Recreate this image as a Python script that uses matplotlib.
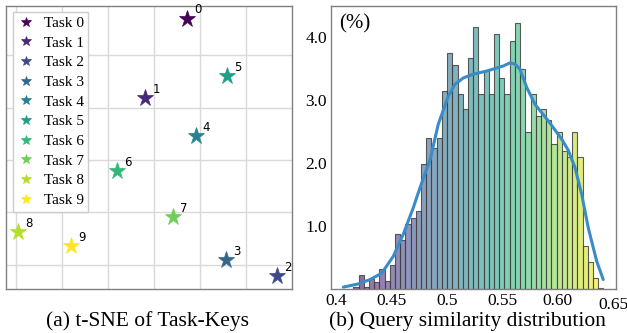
import numpy as np
import matplotlib
matplotlib.use("Agg")
import matplotlib.pyplot as plt
from matplotlib.colors import to_rgba

# ---------------- data ----------------
task_ids = list(range(10))
task_labels = ["Task %d" % i for i in task_ids]
task_x = [7.2, -1.9, 26.8, 15.7, 9.0, 15.8, -8.0, 4.2, -29.5, -18.0]
task_y = [27.0, 11.9, -22.2, -19.1, 4.6, 16.1, -2.2, -10.9, -13.7, -16.4]

hist_lo = 0.4156
hist_hi = 0.6412
hist_pct = [0.03, 0.22, 0.03, 0.16, 0.11, 0.32, 0.12, 0.38, 0.88, 0.78,
            1.03, 1.13, 1.24, 1.99, 2.40, 2.24, 2.40, 3.15, 3.75, 3.56,
            3.09, 2.85, 3.66, 4.16, 3.09, 3.46, 3.09, 4.05, 3.35, 3.09,
            3.93, 4.22, 3.50, 2.49, 3.09, 2.75, 2.85, 2.69, 2.30, 2.49,
            2.19, 2.10, 2.49, 2.10, 0.68, 0.43, 0.18, 0.02]

kde_x = [0.4066, 0.4200, 0.4307, 0.4412, 0.4517, 0.4607, 0.4697, 0.4758,
         0.4848, 0.4923, 0.5013, 0.5073, 0.5148, 0.5238, 0.5359, 0.5509,
         0.5569, 0.5614, 0.5659, 0.5720, 0.5795, 0.5914, 0.6035, 0.6095,
         0.6155, 0.6216, 0.6275, 0.6351, 0.6410]
kde_y = [0.03, 0.08, 0.15, 0.25, 0.52, 0.87, 1.29, 1.61,
         2.05, 2.62, 3.06, 3.25, 3.35, 3.41, 3.46, 3.54,
         3.59, 3.57, 3.49, 3.20, 2.93, 2.67, 2.38, 2.20,
         1.93, 1.50, 0.97, 0.44, 0.15]

xticks = [0.4, 0.45, 0.5, 0.55, 0.60, 0.65]
xtick_labels = ["0.4", "0.45", "0.5", "0.55", "0.60", "0.65"]
yticks = [1.0, 2.0, 3.0, 4.0]
ytick_labels = ["1.0", "2.0", "3.0", "4.0"]

caption_a = "(a) t-SNE of Task-Keys"
caption_b = "(b) Query similarity distribution"

# ---------------- figure ----------------
W, H = 627, 333
fig = plt.figure(figsize=(W / 100, H / 100), dpi=100)
serif = ["Liberation Serif", "DejaVu Serif"]
spine_col = "#808080"

# left panel
axa = fig.add_axes([6 / W, (H - 289.3) / H, 285.7 / W, 283.3 / H])
axa.set_xlim(-32.2, 29.9)
axa.set_ylim(-24.7, 29.4)
axa.set_xticks([-30, -20, -10, 0, 10, 20])
axa.set_yticks([-20, -10, 0, 10, 20])
axa.tick_params(length=0, labelbottom=False, labelleft=False)
axa.grid(True, color="#d9d9d9", linewidth=1.0)
axa.set_axisbelow(True)
for s in axa.spines.values():
    s.set_color(spine_col)
    s.set_linewidth(1.0)
cmap = plt.get_cmap("viridis")
handles = []
for i in task_ids:
    c = cmap(i / 9)
    h, = axa.plot(task_x[i], task_y[i], linestyle="none", marker="*",
                  markersize=12.5, color=c, markeredgewidth=0.5, label=task_labels[i], zorder=3)
    handles.append(h)
    axa.annotate(str(i), (task_x[i], task_y[i]), xytext=(5, 1.5), textcoords="offset points",
                 fontsize=8.5, family="DejaVu Sans", ha="left", va="bottom")
leg = axa.legend(handles=handles, loc="upper left", bbox_to_anchor=(0.015, 0.99),
                 prop={"family": serif, "size": 11}, markerscale=0.6,
                 handlelength=1.0, handletextpad=0.7, labelspacing=0.39,
                 borderpad=0.3, borderaxespad=0.2, fancybox=False, framealpha=1.0,
                 edgecolor="#cccccc")
leg.get_frame().set_linewidth(1.0)

# right panel
axb = fig.add_axes([331 / W, (H - 289) / H, 285 / W, 283.5 / H])
edges = np.linspace(hist_lo, hist_hi, len(hist_pct) + 1)
n = len(hist_pct)
face = [to_rgba(cmap(k / (n - 1)), 0.58) for k in range(n)]
axb.bar(edges[:-1], hist_pct, width=np.diff(edges), align="edge",
        color=face, edgecolor=(0.25, 0.25, 0.25, 0.85), linewidth=0.8, zorder=2)
axb.plot(kde_x, kde_y, color="#3a8cc7", linewidth=2.2, solid_capstyle="round", zorder=3)
axb.set_xlim(0.3955, 0.6525)
axb.set_ylim(0, 4.5)
axb.set_xticks(xticks)
axb.set_xticklabels(xtick_labels, family=serif, fontsize=12.5)
axb.set_yticks(yticks)
axb.set_yticklabels(ytick_labels, family=serif, fontsize=12.5)
axb.tick_params(length=0, pad=3)
axb.get_xticklabels()[-1].set_y(-0.012)
for s in axb.spines.values():
    s.set_color(spine_col)
    s.set_linewidth(1.0)
axb.text(0.03, 0.97, "(%)", transform=axb.transAxes, ha="left", va="top",
         family=serif, fontsize=15)

fig.text(148 / W, 1 - 321 / H, caption_a, ha="center", va="center", family=serif, fontsize=15.5)
fig.text(467 / W, 1 - 321 / H, caption_b, ha="center", va="center", family=serif, fontsize=15.5)

fig.savefig("out.png", dpi=100)
